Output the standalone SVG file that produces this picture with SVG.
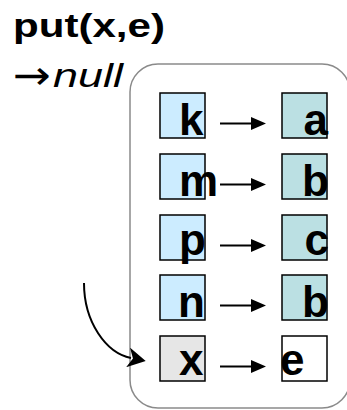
<svg xmlns="http://www.w3.org/2000/svg" width="347" height="410" viewBox="0 0 347 410">
  <style>
    .title { font-family: "Liberation Sans", Arial, sans-serif; font-weight: bold; font-size: 34px; fill: #000; }
    .ret { font-family: "Liberation Sans", Arial, sans-serif; font-size: 34px; fill: #000; }
    .ret-arrow { font-family: "DejaVu Sans", sans-serif; font-size: 40px; }
    .ret-i { font-style: italic; }
    .map { fill: none; stroke: #8a8a8a; stroke-width: 1.5; }
    .key rect { fill: #CCECFF; stroke: #000; stroke-width: 1.5; }
    .val rect { fill: #BBE0E3; stroke: #000; stroke-width: 1.5; }
    .key.new rect { fill: #E6E6E6; }
    .val.new rect { fill: #FFFFFF; }
    .lbl { font-family: "Liberation Sans", Arial, sans-serif; font-weight: bold; font-size: 44px; fill: #000; }
    .vlbl { text-anchor: end; }
    .vlbl.left { text-anchor: start; }
    .link { stroke: #000; stroke-width: 2; fill: none; marker-end: url(#head); }
    .insert { stroke: #000; stroke-width: 2; fill: none; marker-end: url(#barb); }
  </style>
  <defs>
    <marker id="head" markerUnits="userSpaceOnUse" viewBox="0 0 15 13" refX="0" refY="6.5" markerWidth="15" markerHeight="13" orient="auto">
      <path d="M0,0 L15,6.5 L0,13 z" fill="#000"/>
    </marker>
    <marker id="barb" markerUnits="userSpaceOnUse" viewBox="0 0 18 20" refX="3" refY="10" markerWidth="18" markerHeight="20" orient="auto">
      <path d="M0,0 L18,10 L0,20 L5,10 z" fill="#000"/>
    </marker>
  </defs>

  <!-- call and its result -->
  <text class="title" x="13" y="37" textLength="152" lengthAdjust="spacingAndGlyphs">put(x,e)</text>
  <text class="ret ret-arrow" x="13" y="89" textLength="38" lengthAdjust="spacingAndGlyphs">→</text>
  <text class="ret ret-i" x="53" y="87" textLength="70" lengthAdjust="spacingAndGlyphs">null</text>

  <!-- the map -->
  <rect id="map" class="map" x="130" y="64" width="220" height="344" rx="28" ry="28"/>

  <!-- keys -->
  <g id="key-k" class="key"><rect x="160" y="93" width="45" height="45"/><text class="lbl" x="179" y="135">k</text></g>
  <g id="key-m" class="key"><rect x="160" y="154" width="45" height="45"/><text class="lbl" x="179" y="196">m</text></g>
  <g id="key-p" class="key"><rect x="160" y="215" width="45" height="45"/><text class="lbl" x="179" y="255">p</text></g>
  <g id="key-n" class="key"><rect x="160" y="275" width="45" height="45"/><text class="lbl" x="178" y="317">n</text></g>
  <g id="key-x" class="key new"><rect x="160" y="336" width="45" height="45"/><text class="lbl" x="179" y="375">x</text></g>

  <!-- values -->
  <g id="val-a" class="val"><rect x="282" y="93" width="45" height="45"/><text class="lbl vlbl" x="328" y="135">a</text></g>
  <g id="val-b1" class="val"><rect x="282" y="154" width="45" height="45"/><text class="lbl vlbl" x="329" y="196">b</text></g>
  <g id="val-c" class="val"><rect x="282" y="215" width="45" height="45"/><text class="lbl vlbl" x="329" y="255">c</text></g>
  <g id="val-b2" class="val"><rect x="282" y="275" width="45" height="45"/><text class="lbl vlbl" x="329" y="317">b</text></g>
  <g id="val-e" class="val new"><rect x="282" y="336" width="45" height="45"/><text class="lbl vlbl left" x="280" y="375">e</text></g>

  <!-- connectors -->
  <g id="connectors">
    <line class="link" x1="220" y1="123.5" x2="251" y2="123.5"/>
    <line class="link" x1="220" y1="184.5" x2="251" y2="184.5"/>
    <line class="link" x1="220" y1="245.5" x2="251" y2="245.5"/>
    <line class="link" x1="220" y1="305.5" x2="251" y2="305.5"/>
    <line class="link" x1="220" y1="366.5" x2="251" y2="366.5"/>
    <path class="insert" d="M84,283 C84,322 106,353 131,358"/>
  </g>
</svg>
